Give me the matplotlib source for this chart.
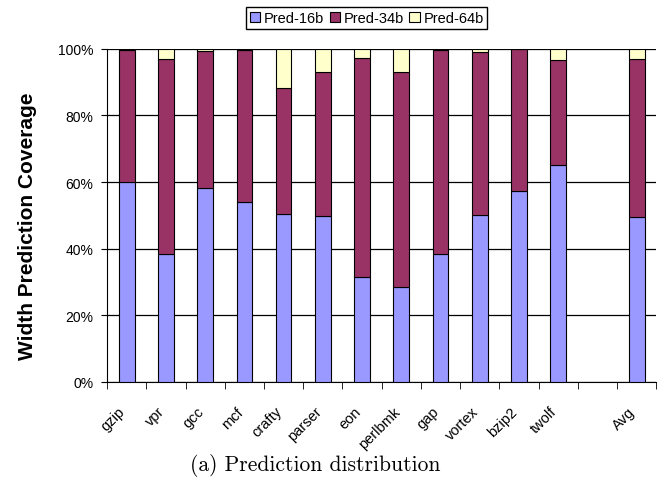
import numpy as np
import matplotlib.pyplot as plt
from matplotlib.ticker import FixedLocator

plt.rcParams['font.family'] = ['Liberation Sans', 'DejaVu Sans']

# 数据：每个基准程序的预测分布（%）
benchmarks = ['gzip', 'vpr', 'gcc', 'mcf', 'crafty', 'parser', 'eon', 'perlbmk',
              'gap', 'vortex', 'bzip2', 'twolf', '', 'Avg']
pred16 = [59.9, 38.3, 58.1, 54.0, 50.3, 49.9, 31.5, 28.6, 38.5, 50.2, 57.2, 65.1, 0, 49.6]
pred34 = [39.9, 58.7, 41.3, 45.6, 37.9, 43.1, 65.7, 64.4, 61.3, 49.0, 42.8, 31.7, 0, 47.4]
pred64 = [0.2, 3.0, 0.6, 0.4, 11.8, 7.0, 2.8, 7.0, 0.2, 0.8, 0.0, 3.2, 0, 3.0]

fig = plt.figure(figsize=(6.57, 4.89), dpi=100)
ax = fig.add_axes([0.163, 0.217, 0.836, 0.681])

x = np.arange(len(benchmarks))
p16 = np.array(pred16)
p34 = np.array(pred34)
p64 = np.array(pred64)
show = np.array([b != '' for b in benchmarks])

w = 0.4
ax.bar(x[show], p16[show], w, color='#9999FF', edgecolor='black', linewidth=0.8, label='Pred-16b', zorder=3)
ax.bar(x[show], p34[show], w, bottom=p16[show], color='#993366', edgecolor='black', linewidth=0.8, label='Pred-34b', zorder=3)
ax.bar(x[show], p64[show], w, bottom=(p16 + p34)[show], color='#FFFFCC', edgecolor='black', linewidth=0.8, label='Pred-64b', zorder=3)

ax.set_xlim(-0.5, len(benchmarks) - 0.5)
ax.set_ylim(0, 100)
ax.set_yticks(range(0, 101, 20))
ax.set_yticklabels([f'{v}%' for v in range(0, 101, 20)], fontsize=10)
ax.yaxis.grid(True, color='black', linewidth=0.9, zorder=0)
ax.set_axisbelow(True)

# 标签稍微偏左，和原图一致
ax.set_xticks(x - 0.22)
ax.set_xticklabels(benchmarks, rotation=45, ha='right', rotation_mode='anchor', fontsize=10.5)
ax.xaxis.set_minor_locator(FixedLocator(np.arange(-0.5, len(benchmarks), 1)))
ax.tick_params(axis='x', which='major', length=0, pad=16)
ax.tick_params(axis='x', which='minor', length=5, direction='out')
ax.tick_params(axis='y', length=4, direction='out', pad=6)

for s in ['top', 'right']:
    ax.spines[s].set_visible(False)

ax.set_ylabel('Width Prediction Coverage', fontsize=15, fontweight='bold')
ax.yaxis.set_label_coords(-0.128, 0.47)

fig.legend(loc='upper center', bbox_to_anchor=(0.558, 0.998), ncol=3, fontsize=10.5,
           frameon=True, fancybox=False, edgecolor='black', handlelength=0.7,
           handleheight=0.7, handletextpad=0.25, columnspacing=0.4, borderpad=0.25,
           framealpha=1)

fig.text(0.48, 0.049, '(a) Prediction distribution', ha='center', va='center',
         fontsize=15.5, family='cmr10')

fig.savefig('out.png', dpi=100)
